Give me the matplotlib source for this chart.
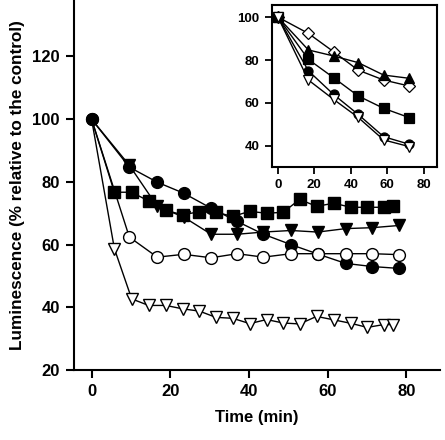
import matplotlib.pyplot as plt

plt.rcParams['font.family'] = ['Liberation Sans', 'DejaVu Sans']
plt.rcParams['font.weight'] = 'bold'

# main panel
t_fast = [0, 9.6, 16.7, 23.4, 30.4, 37, 43.7, 50.7, 57.5, 64.6, 71.4, 78.2]
circ_filled = [100, 84.7, 79.9, 76.4, 71.6, 67.4, 63.3, 60.0, 57.0, 54.0, 53.0, 52.4]
tri_filled = [100, 85.3, 72.2, 68.8, 63.3, 63.3, 64.0, 64.5, 64.0, 65.1, 65.4, 66.1]
circ_open = [100, 62.4, 56.0, 56.9, 55.8, 57.1, 56.0, 57.1, 57.1, 57.1, 57.1, 56.8]

t_dense = [0, 5.8, 10.2, 14.5, 18.9, 23.2, 27.4, 31.6, 35.9, 40.2, 44.5, 48.7,
           52.9, 57.2, 61.6, 65.9, 70.1, 74.3, 76.6]
sq_filled = [100, 76.7, 76.7, 73.9, 70.9, 69.5, 70.5, 70.3, 69.0, 70.6, 70.0, 70.3,
             74.4, 72.2, 73.2, 71.9, 71.9, 71.9, 72.2]
tri_open = [100, 58.7, 42.7, 40.6, 40.6, 39.5, 38.8, 36.8, 36.5, 34.8, 36.1, 35.0,
            34.7, 37.1, 36.0, 34.9, 33.6, 34.5, 34.5]

# inset
t_inset = [0, 16.7, 30.5, 44, 58, 72]
in_diamond = [100, 92.4, 83.9, 75.3, 70.7, 67.9]
in_tri_up = [100, 84.7, 81.9, 78.8, 73.0, 71.5]
in_square = [100, 80.3, 71.8, 63.3, 57.5, 53.2]
in_circle = [100, 75.0, 64.0, 54.7, 44.3, 40.8]
in_tri_open = [100, 70.7, 61.7, 53.3, 42.8, 39.7]

fig = plt.figure(figsize=(4.45, 4.40), dpi=100)
ax = fig.add_axes([0.166, 0.159, 0.822, 0.841])

# first point is shared by all curves; only the filled circle marks it
skip0 = slice(1, None)
kw = dict(color='black', lw=1.0, mew=1.0, ms=8.5, mec='black')
ax.plot(t_dense, tri_open, marker='v', mfc='white', markevery=skip0, **kw)
ax.plot(t_fast, circ_filled, marker='o', mfc='black', **kw)
ax.plot(t_fast, tri_filled, marker='v', mfc='black', markevery=skip0, **kw)
ax.plot(t_dense, sq_filled, marker='s', mfc='black', markevery=skip0,
        **dict(kw, ms=8))
ax.plot(t_fast, circ_open, marker='o', mfc='white', markevery=skip0, **kw)
ax.plot(t_fast[:1], circ_filled[:1], marker='o', mfc='black', ls='none',
        **dict(kw, lw=0))

ax.set_xlim(-4.5, 88.5)
ax.set_ylim(20, 138)
ax.set_xticks([0, 20, 40, 60, 80])
ax.set_yticks([20, 40, 60, 80, 100, 120])
for s in ['top', 'right']:
    ax.spines[s].set_visible(False)
for s in ['left', 'bottom']:
    ax.spines[s].set_linewidth(1.5)
ax.tick_params(direction='out', length=6, width=1.5, labelsize=12, pad=4)
ax.set_xlabel('Time (min)', fontsize=12, fontweight='bold', labelpad=8)
ax.set_ylabel('Luminescence (% relative to the control)', fontsize=12.3,
              fontweight='bold', labelpad=5)

ins = fig.add_axes([0.611, 0.6205, 0.372, 0.368])
ik = dict(color='black', lw=1.0, mew=0.9, ms=7, mec='black')
ins.plot(t_inset, in_diamond, marker='D', mfc='white', **dict(ik, ms=6.5))
ins.plot(t_inset, in_tri_up, marker='^', mfc='black', **ik)
ins.plot(t_inset, in_square, marker='s', mfc='black', **dict(ik, ms=6.5))
ins.plot(t_inset, in_circle, marker='o', mfc='black', **dict(ik, ms=6.5))
ins.plot(t_inset, in_tri_open, marker='v', mfc='white', **ik)
ins.set_xlim(-3.3, 87.5)
ins.set_ylim(30.2, 105.6)
ins.set_xticks([0, 20, 40, 60, 80])
ins.set_yticks([40, 60, 80, 100])
for s in ins.spines.values():
    s.set_linewidth(1.5)
ins.tick_params(direction='out', length=5, width=1.3, labelsize=9.5, pad=4)

fig.savefig('out.png', dpi=100)
